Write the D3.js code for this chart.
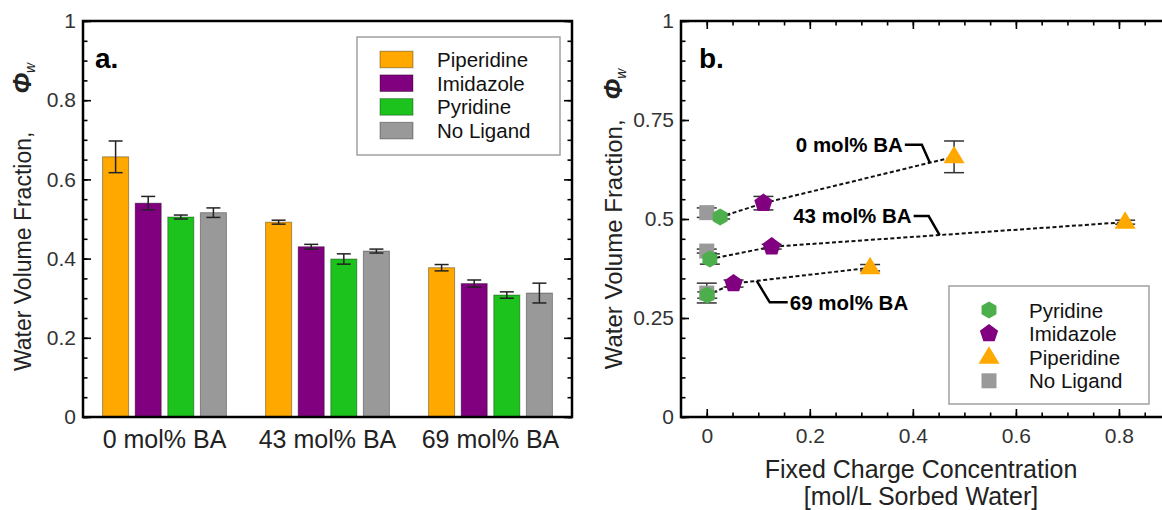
<!DOCTYPE html>
<html>
<head>
<meta charset="utf-8">
<script src="https://cdn.jsdelivr.net/npm/d3@7"></script>
<style>
  body { margin: 0; background: #fff; }
  svg { display: block; font-family: "Liberation Sans", Arial, sans-serif; }
</style>
</head>
<body>
<svg id="chart" width="1162" height="510"></svg>
<script>
//----------------- data -----------------
const baLevels = ["0 mol% BA", "43 mol% BA", "69 mol% BA"];
const ligands = ["Piperidine", "Imidazole", "Pyridine", "No Ligand"];

// water volume fraction per BA level
const piperidinePhi = [0.657, 0.492, 0.377];
const imidazolePhi = [0.540, 0.430, 0.337];
const pyridinePhi = [0.505, 0.399, 0.308];
const noLigandPhi = [0.516, 0.419, 0.313];

// error bar half widths
const piperidineErr = [0.040, 0.005, 0.008];
const imidazoleErr = [0.017, 0.006, 0.009];
const pyridineErr = [0.005, 0.013, 0.008];
const noLigandErr = [0.012, 0.005, 0.025];

// fixed charge concentration [mol/L sorbed water]
const piperidineCharge = [0.480, 0.812, 0.317];
const imidazoleCharge = [0.110, 0.126, 0.052];
const pyridineCharge = [0.026, 0.006, 0.001];
const noLigandCharge = [0, 0, 0];

const yTicksLeft = [0, 0.2, 0.4, 0.6, 0.8, 1];
const yTicksRight = [0, 0.25, 0.5, 0.75, 1];
const xTicksRight = [0, 0.2, 0.4, 0.6, 0.8];

//----------------- lookups -----------------
const phi = { "Piperidine": piperidinePhi, "Imidazole": imidazolePhi, "Pyridine": pyridinePhi, "No Ligand": noLigandPhi };
const err = { "Piperidine": piperidineErr, "Imidazole": imidazoleErr, "Pyridine": pyridineErr, "No Ligand": noLigandErr };
const charge = { "Piperidine": piperidineCharge, "Imidazole": imidazoleCharge, "Pyridine": pyridineCharge, "No Ligand": noLigandCharge };

const barColor = { "Piperidine": "#FFA800", "Imidazole": "#800080", "Pyridine": "#1CC31C", "No Ligand": "#999999" };
const markColor = { "Piperidine": "#FFA800", "Imidazole": "#800080", "Pyridine": "#4CAF4C", "No Ligand": "#9a9a9a" };

const svg = d3.select("#chart");
svg.append("rect").attr("width", 1162).attr("height", 510).attr("fill", "#fff");

const minor = d3.range(0, 21).map(i => i / 20);

// inward ticks on a given side
function ticks(g, axis, majors, labels) {
    g.append("g").call(axis.tickValues(minor).tickSize(-4.5).tickFormat(""));
    const maj = g.append("g").call(axis.tickValues(majors).tickSize(-8).tickPadding(labels ? 7 : 0)
        .tickFormat(labels ? (d => String(d)) : ""));
    g.selectAll(".domain").remove();
    g.selectAll("line").attr("stroke", "#000").attr("stroke-width", 1.6);
    maj.selectAll("text").attr("font-size", 21).attr("fill", "#333")
        .style("font-family", "Liberation Sans, Arial, sans-serif");
    return maj;
}

//----------------- panel a: bars -----------------
const yL = d3.scaleLinear().domain([0, 1]).range([417, 21]);
const x0 = d3.scaleBand().domain(baLevels).range([83, 572]);
const x1 = d3.scaleBand().domain(ligands).range([0, x0.bandwidth()])
    .paddingInner(0.2).paddingOuter(0.6);

const barG = svg.append("g");
baLevels.forEach((lvl, i) => {
    const g = barG.append("g").attr("transform", `translate(${x0(lvl)},0)`);
    g.selectAll("rect")
        .data(ligands)
        .join("rect")
        .attr("x", d => x1(d))
        .attr("y", d => yL(phi[d][i]))
        .attr("width", x1.bandwidth())
        .attr("height", d => yL(0) - yL(phi[d][i]))
        .attr("fill", d => barColor[d])
        .attr("stroke", "rgba(0,0,0,0.35)")
        .attr("stroke-width", 1);
    const eb = g.selectAll("g.err").data(ligands).join("g").attr("class", "err")
        .attr("stroke", "#222").attr("stroke-width", 1.5);
    const cx = d => x1(d) + x1.bandwidth() / 2;
    eb.append("line").attr("x1", cx).attr("x2", cx)
        .attr("y1", d => yL(phi[d][i] + err[d][i])).attr("y2", d => yL(phi[d][i] - err[d][i]));
    [1, -1].forEach(s => {
        eb.append("line").attr("x1", d => cx(d) - 7).attr("x2", d => cx(d) + 7)
            .attr("y1", d => yL(phi[d][i] + s * err[d][i])).attr("y2", d => yL(phi[d][i] + s * err[d][i]));
    });
});

ticks(svg.append("g").attr("transform", "translate(83,0)"), d3.axisLeft(yL), yTicksLeft, true);
ticks(svg.append("g").attr("transform", "translate(572,0)"), d3.axisRight(yL), yTicksLeft, false);

svg.append("rect").attr("x", 83).attr("y", 21).attr("width", 572 - 83).attr("height", 417 - 21)
    .attr("fill", "none").attr("stroke", "#000").attr("stroke-width", 2.5);

// category labels
svg.append("g").selectAll("text").data(baLevels).join("text")
    .attr("x", d => x0(d) + x0.bandwidth() / 2)
    .attr("y", 448)
    .attr("text-anchor", "middle")
    .attr("font-size", 25)
    .attr("fill", "#222")
    .text(d => d);

// legend a
const legA = svg.append("g");
legA.append("rect").attr("x", 357).attr("y", 37).attr("width", 203).attr("height", 118)
    .attr("fill", "#fff").attr("stroke", "#a0a0a0").attr("stroke-width", 1.5);
ligands.forEach((d, i) => {
    const cy = 59.5 + i * 23.7;
    legA.append("rect").attr("x", 380).attr("y", cy - 8.3).attr("width", 33).attr("height", 16.6)
        .attr("fill", barColor[d]).attr("stroke", "rgba(0,0,0,0.35)");
    legA.append("text").attr("x", 437).attr("y", cy + 7.5).attr("font-size", 20.5).attr("fill", "#111").text(d);
});

svg.append("text").attr("x", 95).attr("y", 68).attr("font-size", 28).attr("font-weight", "bold").text("a.");

// y title a
const tA = svg.append("text").attr("transform", "translate(31,217) rotate(-90)")
    .attr("text-anchor", "middle").attr("font-size", 23).attr("fill", "#222");
tA.append("tspan").text("Water Volume Fraction,");
tA.append("tspan").attr("dx", 38).attr("font-style", "italic").attr("font-weight", "bold").attr("font-size", 25).text("Φ");
tA.append("tspan").attr("dy", 4).attr("font-style", "italic").attr("font-size", 14).text("w");

//----------------- panel b: scatter -----------------
const xR = d3.scaleLinear().domain([-0.05, 1]).range([681, 1222]);
const yR = d3.scaleLinear().domain([0, 1]).range([417, 21]);

svg.append("defs").append("clipPath").attr("id", "clipB")
    .append("rect").attr("x", 681).attr("y", 0).attr("width", 541).attr("height", 510);

function poly(n, r, start) {
    return d3.line()(d3.range(n).map(k => {
        const a = (start + 360 * k / n) * Math.PI / 180;
        return [r * Math.cos(a), r * Math.sin(a)];
    })) + "Z";
}
const shape = {
    "Pyridine": poly(6, 8.6, -90),
    "Imidazole": poly(5, 9.6, -90),
    "Piperidine": "M0,-11L10.5,6.5L-10.5,6.5Z",
    "No Ligand": "M-7.5,-7.5h15v15h-15Z"
};

const plotB = svg.append("g").attr("clip-path", "url(#clipB)");
const lineOrder = ["Pyridine", "Imidazole", "Piperidine"];

baLevels.forEach((lvl, i) => {
    plotB.append("path")
        .attr("d", d3.line()(lineOrder.map(d => [xR(charge[d][i]), yR(phi[d][i])])))
        .attr("fill", "none").attr("stroke", "#111").attr("stroke-width", 2)
        .attr("stroke-dasharray", "4,2.5");
});

// error bars behind markers
const markOrder = ["No Ligand", "Pyridine", "Imidazole", "Piperidine"];
baLevels.forEach((lvl, i) => {
    markOrder.forEach(d => {
        const x = xR(charge[d][i]);
        const g = plotB.append("g").attr("stroke", "#333").attr("stroke-width", 1.5);
        g.append("line").attr("x1", x).attr("x2", x)
            .attr("y1", yR(phi[d][i] + err[d][i])).attr("y2", yR(phi[d][i] - err[d][i]));
        [1, -1].forEach(s => g.append("line").attr("x1", x - 10).attr("x2", x + 10)
            .attr("y1", yR(phi[d][i] + s * err[d][i])).attr("y2", yR(phi[d][i] + s * err[d][i])));
    });
});
markOrder.forEach(d => {
    plotB.append("g").selectAll("path").data(baLevels.map((l, i) => i)).join("path")
        .attr("d", shape[d])
        .attr("transform", i => `translate(${xR(charge[d][i])},${yR(phi[d][i])})`)
        .attr("fill", markColor[d]);
});

// annotations (leader lines)
const annoLayout = [
    { ax: 0.433, elbow: [-8, -18], end: [-25, -18], anchor: "end" },
    { ax: 0.452, elbow: [-11, -19], end: [-26, -19], anchor: "end" },
    { ax: 0.097, elbow: [13, 21.5], end: [31, 21.5], anchor: "start" }
];
baLevels.forEach((lvl, i) => {
    const a = annoLayout[i];
    const xa = imidazoleCharge[i], ya = imidazolePhi[i];
    const xb = piperidineCharge[i], yb = piperidinePhi[i];
    const t = (a.ax - xa) / (xb - xa);
    const px = xR(a.ax), py = yR(ya + t * (yb - ya));
    svg.append("path")
        .attr("d", `M${px},${py}L${px + a.elbow[0]},${py + a.elbow[1]}L${px + a.end[0]},${py + a.end[1]}`)
        .attr("fill", "none").attr("stroke", "#000").attr("stroke-width", 2.5);
    svg.append("text")
        .attr("x", px + a.end[0] + (a.anchor === "end" ? -2 : 2))
        .attr("y", py + a.end[1] + 7.3)
        .attr("text-anchor", a.anchor)
        .attr("font-size", 20.5).attr("font-weight", "bold").attr("fill", "#000")
        .text(lvl);
});

ticks(svg.append("g").attr("transform", "translate(681,0)"), d3.axisLeft(yR), yTicksRight, true);
ticks(svg.append("g").attr("transform", "translate(0,417)"), d3.axisBottom(xR), xTicksRight.concat([1]), true)
    .selectAll("text").attr("y", 11).filter(d => d === 1).remove();
ticks(svg.append("g").attr("transform", "translate(0,21)"), d3.axisTop(xR), xTicksRight, false);

svg.append("rect").attr("x", 681).attr("y", 21).attr("width", 541).attr("height", 396)
    .attr("fill", "none").attr("stroke", "#000").attr("stroke-width", 2.5);

// legend b
const legB = svg.append("g");
legB.append("rect").attr("x", 949).attr("y", 286).attr("width", 200).attr("height", 118)
    .attr("fill", "#fff").attr("stroke", "#a0a0a0").attr("stroke-width", 1.5);
["Pyridine", "Imidazole", "Piperidine", "No Ligand"].forEach((d, i) => {
    const cy = 310 + i * 23.6;
    legB.append("path").attr("d", shape[d]).attr("transform", `translate(989,${cy})`).attr("fill", markColor[d]);
    legB.append("text").attr("x", 1029).attr("y", cy + 7.5).attr("font-size", 20.5).attr("fill", "#111").text(d);
});

svg.append("text").attr("x", 699).attr("y", 68).attr("font-size", 28).attr("font-weight", "bold").text("b.");

// axis titles b
const tB = svg.append("text").attr("transform", "translate(622,219) rotate(-90)")
    .attr("text-anchor", "middle").attr("font-size", 24).attr("fill", "#222");
tB.append("tspan").text("Water Volume Fraction,");
tB.append("tspan").attr("dx", 20).attr("font-style", "italic").attr("font-weight", "bold").attr("font-size", 25).text("Φ");
tB.append("tspan").attr("dy", 4).attr("font-style", "italic").attr("font-size", 14).text("w");

svg.append("text").attr("x", 921).attr("y", 478).attr("text-anchor", "middle")
    .attr("font-size", 25).attr("fill", "#222").text("Fixed Charge Concentration");
svg.append("text").attr("x", 921).attr("y", 505).attr("text-anchor", "middle")
    .attr("font-size", 25).attr("fill", "#222").text("[mol/L Sorbed Water]");
</script>
</body>
</html>
